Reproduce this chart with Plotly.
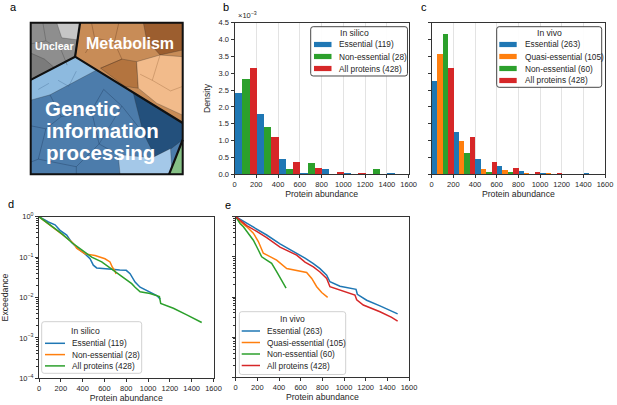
import plotly.graph_objects as go

W, H = 617, 405


def px(x):
    return x / W


def py(y):
    return 1 - y / H


# ---------------- data ----------------
bin_centers = [100, 300, 500, 700, 900, 1100, 1300, 1500]

# densities in units of 1e-3
silico_names = ["Essential (119)", "Non-essential (28)", "All proteins (428)"]
silico_essential = [2.43, 1.80, 0.45, 0.03, 0.16, 0.03, 0.00, 0.03]
silico_nonessential = [2.85, 1.42, 0.17, 0.35, 0.00, 0.00, 0.17, 0.00]
all_proteins = [3.17, 1.11, 0.36, 0.20, 0.07, 0.02, 0.00, 0.015]

vivo_names = ["Essential (263)", "Quasi-essential (105)", "Non-essential (60)", "All proteins (428)"]
vivo_essential = [2.77, 1.25, 0.47, 0.25, 0.10, 0.02, 0.00, 0.03]
vivo_quasi = [3.57, 0.99, 0.18, 0.13, 0.04, 0.03, 0.00, 0.00]
vivo_nonessential = [4.18, 0.64, 0.08, 0.07, 0.00, 0.00, 0.00, 0.00]

# exceedance curves, in silico (panel d)
d_ess_x = [0, 40, 86, 147, 193, 254, 300, 361, 422, 468, 498, 529, 600, 667, 740, 800, 835, 881, 927, 1018, 1080, 1112]
d_ess_y = [1.0, 0.87, 0.74, 0.63, 0.46, 0.35, 0.23, 0.16, 0.12, 0.091, 0.063, 0.054, 0.051, 0.050, 0.048,
           0.047, 0.039, 0.024, 0.018, 0.0138, 0.0112, 0.0091]
d_non_x = [0, 24, 80, 147, 223, 269, 300, 330, 345, 361, 422, 514, 560, 605, 651, 673, 697, 706]
d_non_y = [1.0, 0.89, 0.71, 0.50, 0.35, 0.275, 0.24, 0.195, 0.166, 0.155, 0.12, 0.11, 0.10, 0.091, 0.076,
           0.056, 0.045, 0.038]
d_all_x = [0, 86, 208, 300, 391, 483, 575, 667, 713, 758, 850, 881, 927, 1018, 1104, 1116, 1232, 1355, 1492]
d_all_y = [1.0, 0.68, 0.38, 0.23, 0.148, 0.10, 0.076, 0.051, 0.040, 0.033, 0.022, 0.018, 0.0138, 0.0126,
           0.0105, 0.0071, 0.0054, 0.0037, 0.0024]

# exceedance curves, in vivo (panel e)
e_ess_x = [0, 50, 102, 194, 286, 409, 486, 563, 640, 717, 778, 840, 870, 963, 1055, 1111, 1123, 1209, 1332, 1495]
e_ess_y = [1.0, 0.83, 0.68, 0.50, 0.35, 0.21, 0.16, 0.126, 0.093, 0.068, 0.051, 0.035, 0.024, 0.0186,
           0.017, 0.0155, 0.0117, 0.0083, 0.0060, 0.0038]
e_quasi_x = [0, 40, 102, 163, 209, 240, 255, 286, 378, 471, 563, 655, 702, 748, 794, 849]
e_quasi_y = [1.0, 0.76, 0.56, 0.39, 0.24, 0.162, 0.123, 0.112, 0.083, 0.051, 0.046, 0.041, 0.029, 0.018,
             0.0129, 0.0098]
e_non_x = [0, 40, 71, 132, 163, 209, 240, 286, 332, 378, 425, 465]
e_non_y = [1.0, 0.68, 0.56, 0.35, 0.26, 0.148, 0.10, 0.083, 0.069, 0.043, 0.026, 0.0166]
e_all_x = [0, 50, 102, 194, 286, 409, 486, 563, 640, 717, 778, 840, 870, 994, 1101, 1117, 1178, 1332, 1440, 1495]
e_all_y = [1.0, 0.79, 0.60, 0.43, 0.30, 0.174, 0.138, 0.110, 0.074, 0.056, 0.042, 0.029, 0.018, 0.0141,
           0.0112, 0.0085, 0.0063, 0.0043, 0.0031, 0.0025]

x_ticks = [0, 200, 400, 600, 800, 1000, 1200, 1400, 1600]
density_ticks = [0.0, 0.5, 1.0, 1.5, 2.0, 2.5, 3.0, 3.5, 4.0, 4.5]
exc_ticks = [1, 0.1, 0.01, 0.001, 0.0001]
exc_ticktext = ["10<sup>0</sup>", "10<sup>−1</sup>", "10<sup>−2</sup>", "10<sup>−3</sup>", "10<sup>−4</sup>"]

BLUE, ORANGE, GREEN, RED = "#1f77b4", "#ff7f0e", "#2ca02c", "#d62728"
FONT = "Liberation Sans"
DARK = "#262626"

fig = go.Figure()

# ---- panel b bars
for name, vals, col in zip(silico_names, [silico_essential, silico_nonessential, all_proteins],
                           [BLUE, GREEN, RED]):
    fig.add_trace(go.Bar(x=bin_centers, y=vals, name=name, marker=dict(color=col, line=dict(width=0)),
                         xaxis="x", yaxis="y", showlegend=False))
# ---- panel c bars
for name, vals, col in zip(vivo_names, [vivo_essential, vivo_quasi, vivo_nonessential, all_proteins],
                           [BLUE, ORANGE, GREEN, RED]):
    fig.add_trace(go.Bar(x=bin_centers, y=vals, name=name, marker=dict(color=col, line=dict(width=0)),
                         xaxis="x2", yaxis="y2", showlegend=False))
# ---- panel d lines
for name, xs, ys, col in zip(silico_names, [d_ess_x, d_non_x, d_all_x], [d_ess_y, d_non_y, d_all_y],
                             [BLUE, ORANGE, GREEN]):
    fig.add_trace(go.Scatter(x=xs, y=ys, name=name, mode="lines", line=dict(color=col, width=1.5),
                             xaxis="x3", yaxis="y3", showlegend=False))
# ---- panel e lines
for name, xs, ys, col in zip(vivo_names, [e_ess_x, e_quasi_x, e_non_x, e_all_x],
                             [e_ess_y, e_quasi_y, e_non_y, e_all_y], [BLUE, ORANGE, GREEN, RED]):
    fig.add_trace(go.Scatter(x=xs, y=ys, name=name, mode="lines", line=dict(color=col, width=1.5),
                             xaxis="x4", yaxis="y4", showlegend=False))

tickfont = dict(family=FONT, size=7.5, color=DARK)
titlefont = dict(family=FONT, size=8.7, color=DARK)
common_axis = dict(showline=True, linecolor="#333333", linewidth=1, mirror=True, ticks="outside",
                   ticklen=3, tickwidth=0.8, tickcolor="#333333", tickfont=tickfont, zeroline=False,
                   automargin=False)

xcommon = dict(common_axis, range=[0, 1600], tickmode="array", tickvals=x_ticks,
               title=dict(text="Protein abundance", font=titlefont, standoff=2))

minor_vals = [m * 10 ** e for e in range(-4, 0) for m in range(2, 10)]

fig.update_layout(
    width=W, height=H, margin=dict(l=0, r=0, t=0, b=0),
    paper_bgcolor="white", plot_bgcolor="white",
    barmode="group", bargap=0, bargroupgap=0,
    font=dict(family=FONT, color=DARK),
    xaxis=dict(xcommon, domain=[px(234.5), px(408.7)], anchor="y", showgrid=True, gridcolor="#e3e3e3",
               gridwidth=1),
    yaxis=dict(common_axis, domain=[py(174.3), py(22.7)], anchor="x", range=[0, 4.5], tickmode="array",
               tickvals=density_ticks, tickformat=".1f", showgrid=False,
               title=dict(text="Density", font=titlefont, standoff=6)),
    xaxis2=dict(xcommon, domain=[px(431.7), px(605)], anchor="y2", showgrid=True, gridcolor="#e3e3e3",
                gridwidth=1),
    yaxis2=dict(common_axis, domain=[py(174.3), py(22.7)], anchor="x2", range=[0, 4.5], tickmode="array",
                tickvals=density_ticks, showticklabels=False, showgrid=False),
    xaxis3=dict(xcommon, domain=[px(39), px(213.5)], anchor="y3", showgrid=False),
    yaxis3=dict(common_axis, domain=[py(378.3), py(216.7)], anchor="x3", type="log", range=[-4, 0],
                tickmode="array", tickvals=exc_ticks, ticktext=exc_ticktext, showgrid=False,
                minor=dict(ticks="outside", ticklen=1.8, tickwidth=0.6, tickcolor="#333333",
                           tickmode="array", tickvals=minor_vals, showgrid=False),
                title=dict(text="Exceedance", font=titlefont, standoff=10)),
    xaxis4=dict(xcommon, domain=[px(235.7), px(409)], anchor="y4", showgrid=False),
    yaxis4=dict(common_axis, domain=[py(377.3), py(216.7)], anchor="x4", type="log", range=[-4, 0],
                tickmode="array", tickvals=exc_ticks, showticklabels=False, showgrid=False,
                minor=dict(ticks="outside", ticklen=1.8, tickwidth=0.6, tickcolor="#333333",
                           tickmode="array", tickvals=minor_vals, showgrid=False)),
)

shapes = []
annotations = []


def rrect_path(x0, y0, x1, y1, r):
    def P(x, y):
        return f"{px(x):.5f},{py(y):.5f}"
    return (f"M {P(x0 + r, y0)} L {P(x1 - r, y0)} Q {P(x1, y0)} {P(x1, y0 + r)} "
            f"L {P(x1, y1 - r)} Q {P(x1, y1)} {P(x1 - r, y1)} L {P(x0 + r, y1)} "
            f"Q {P(x0, y1)} {P(x0, y1 - r)} L {P(x0, y0 + r)} Q {P(x0, y0)} {P(x0 + r, y0)} Z")


def add_legend(box, edge, title, title_xy, names, colors, kind, sw, text_x, y0, step):
    shapes.append(dict(type="path", xref="paper", yref="paper", path=rrect_path(*box, 2.5),
                       line=dict(color=edge, width=0.9), fillcolor="rgba(255,255,255,0.9)"))
    annotations.append(dict(xref="paper", yref="paper", x=px(title_xy[0]), y=py(title_xy[1]), text=title,
                            showarrow=False, xanchor="center", yanchor="middle",
                            font=dict(family=FONT, size=8.6, color=DARK)))
    for i, (nm, col) in enumerate(zip(names, colors)):
        yc = y0 + i * step
        if kind == "bar":
            shapes.append(dict(type="rect", xref="paper", yref="paper", x0=px(sw[0]), x1=px(sw[1]),
                               y0=py(yc + 2.6), y1=py(yc - 2.6), fillcolor=col, line=dict(width=0)))
        else:
            shapes.append(dict(type="line", xref="paper", yref="paper", x0=px(sw[0]), x1=px(sw[1]),
                               y0=py(yc), y1=py(yc), line=dict(color=col, width=1.5)))
        annotations.append(dict(xref="paper", yref="paper", x=px(text_x), y=py(yc), text=nm,
                                showarrow=False, xanchor="left", yanchor="middle",
                                font=dict(family=FONT, size=8.3, color=DARK)))


add_legend((310.7, 26.7, 407.5, 76), "#333333", "In silico", (354.7, 33.5), silico_names, [BLUE, GREEN, RED],
           "bar", (314, 331.5), 336.7, 44.5, 12)
add_legend((496.7, 26.7, 601.7, 87.3), "#333333", "In vivo", (549, 33.5), vivo_names,
           [BLUE, ORANGE, GREEN, RED], "bar", (499.3, 516.7), 522.7, 44.5, 12)
add_legend((41.7, 321.7, 141.7, 373.3), "#cccccc", "In silico", (85, 331), silico_names,
           [BLUE, ORANGE, GREEN], "line", (45, 65), 70, 343.3, 11.3)
add_legend((239.3, 311.7, 345.7, 374.5), "#cccccc", "In vivo", (292.7, 318.5), vivo_names,
           [BLUE, ORANGE, GREEN, RED], "line", (241.7, 260), 265, 331, 11.5)

# offset text for density axis
annotations.append(dict(xref="paper", yref="paper", x=px(236), y=py(15), text="×10<sup>−3</sup>",
                        showarrow=False, xanchor="left", yanchor="middle",
                        font=dict(family=FONT, size=7.5, color=DARK)))

# panel letters
for letter, (lx, ly) in zip("abcde", [(13, 7), (226, 7), (423.7, 7), (11, 204), (228, 205)]):
    annotations.append(dict(xref="paper", yref="paper", x=px(lx), y=py(ly), text=letter, showarrow=False,
                            xanchor="center", yanchor="middle", font=dict(family=FONT, size=11, color="black")))

# ---------------- panel a : illustration (Voronoi-like treemap) ----------------
A_X0, A_X1, A_Y0, A_Y1 = 30.7, 182.7, 22.7, 174.3


def apath(pts, close=True):
    segs = []
    for i, (u, v) in enumerate(pts):
        xx = px(A_X0 + u * (A_X1 - A_X0))
        yy = py(A_Y1 - v * (A_Y1 - A_Y0))
        segs.append(("M " if i == 0 else "L ") + f"{xx:.5f},{yy:.5f}")
    return " ".join(segs) + (" Z" if close else "")


regions = [
    ([(0, 1), (0.325, 1), (0.292, 0.776), (0, 0.623)], "#8e8e8e"),
    ([(0.171, 1), (0.325, 1), (0.314, 0.886), (0.204, 0.90)], "#c6c6c6"),
    ([(0, 0.80), (0.09, 0.76), (0.16, 0.70), (0, 0.623)], "#7b7b7b"),
    ([(0.325, 1), (1, 1), (1, 0.338), (0.292, 0.776)], "#c88c57"),
    ([(0.741, 1), (1, 1), (1, 0.82), (0.851, 0.787), (0.763, 0.886)], "#9c5e2f"),
    ([(0.46, 0.70), (0.60, 0.76), (0.697, 0.743), (0.708, 0.568), (0.62, 0.58)], "#b3743f"),
    ([(0.697, 0.743), (0.851, 0.787), (1, 0.776), (1, 0.39), (0.829, 0.469), (0.708, 0.568)], "#f2bb8b"),
    ([(0, 0.623), (0.292, 0.776), (1, 0.338), (1, 0), (0, 0)], "#4c7cab"),
    ([(0, 0.623), (0.292, 0.776), (0.434, 0.688), (0.127, 0.524), (0, 0.489)], "#8dbadf"),
    ([(0.675, 0.534), (1, 0.338), (1, 0.228), (0.829, 0.096), (0.741, 0.272)], "#23507c"),
    ([(0.588, 0), (0.575, 0.13), (0.80, 0.11), (0.92, 0.17), (0.93, 0)], "#a4c8e8"),
    ([(1, 0.22), (1, 0), (0.91, 0), (0.95, 0.10)], "#86c186"),
]
for pts, col in regions:
    shapes.append(dict(type="path", xref="paper", yref="paper", path=apath(pts), fillcolor=col,
                       line=dict(color="rgba(40,40,40,0.55)", width=0.5), layer="below"))

# thin cell outlines for the Voronoi texture
cell_lines = [
    ([(0.08, 1), (0.10, 0.88), (0.20, 0.82), (0.24, 0.72)], "rgba(60,60,60,0.55)"),
    ([(0.10, 0.88), (0, 0.86)], "rgba(60,60,60,0.55)"),
    ([(0.40, 1), (0.42, 0.90), (0.36, 0.80)], "rgba(90,50,20,0.55)"),
    ([(0.42, 0.90), (0.55, 0.87), (0.60, 0.76)], "rgba(90,50,20,0.55)"),
    ([(0.55, 0.87), (0.58, 1)], "rgba(90,50,20,0.55)"),
    ([(0.60, 0.76), (0.46, 0.70)], "rgba(90,50,20,0.55)"),
    ([(0.851, 0.787), (0.80, 0.62), (0.92, 0.55), (1, 0.58)], "rgba(120,70,30,0.45)"),
    ([(0.80, 0.62), (0.72, 0.66)], "rgba(120,70,30,0.45)"),
    ([(0.127, 0.524), (0.20, 0.38), (0.10, 0.30), (0, 0.32)], "rgba(20,45,80,0.55)"),
    ([(0.20, 0.38), (0.40, 0.42), (0.48, 0.56)], "rgba(20,45,80,0.55)"),
    ([(0.40, 0.42), (0.45, 0.20), (0.575, 0.13)], "rgba(20,45,80,0.55)"),
    ([(0.45, 0.20), (0.30, 0.05), (0.30, 0)], "rgba(20,45,80,0.55)"),
    ([(0.10, 0.30), (0.05, 0.10), (0, 0.08)], "rgba(20,45,80,0.55)"),
    ([(0.30, 0.05), (0.05, 0.10)], "rgba(20,45,80,0.55)"),
    ([(0.48, 0.56), (0.60, 0.45), (0.741, 0.272)], "rgba(20,45,80,0.55)"),
    ([(0.60, 0.45), (0.45, 0.20)], "rgba(20,45,80,0.45)"),
    ([(0.18, 0.62), (0.25, 0.58), (0.30, 0.68)], "rgba(40,80,120,0.45)"),
    ([(0.05, 0.56), (0.12, 0.60)], "rgba(40,80,120,0.45)"),
]
for pts, col in cell_lines:
    shapes.append(dict(type="path", xref="paper", yref="paper", path=apath(pts, close=False),
                       line=dict(color=col, width=0.6), layer="below"))

borders = [
    [(0.325, 1), (0.292, 0.776)],
    [(0, 0.623), (0.292, 0.776), (1, 0.338)],
    [(1, 0.228), (0.95, 0.10), (0.91, 0)],
]
for pts in borders:
    shapes.append(dict(type="path", xref="paper", yref="paper", path=apath(pts, close=False),
                       line=dict(color="#111111", width=2.2)))
shapes.append(dict(type="rect", xref="paper", yref="paper", x0=px(A_X0), x1=px(A_X1), y0=py(A_Y1), y1=py(A_Y0),
                   line=dict(color="#111111", width=2)))

a_texts = [
    ("Unclear", 54, 45.7, 10.5, "center"),
    ("Metabolism", 130, 43.5, 16, "center"),
    ("Genetic", 43.3, 108.3, 20.5, "left"),
    ("information", 43.5, 130.8, 20.5, "left"),
    ("processing", 44, 152.5, 20.5, "left"),
]
for txt, tx, ty, sz, anc in a_texts:
    annotations.append(dict(xref="paper", yref="paper", x=px(tx), y=py(ty), text=f"<b>{txt}</b>",
                            showarrow=False, xanchor=anc, yanchor="middle",
                            font=dict(family=FONT, size=sz, color="white")))

fig.update_layout(shapes=shapes, annotations=annotations)
fig.write_html("out.html", config={"displayModeBar": False},
               post_script="document.body.style.margin='0px';document.body.style.padding='0px';")
